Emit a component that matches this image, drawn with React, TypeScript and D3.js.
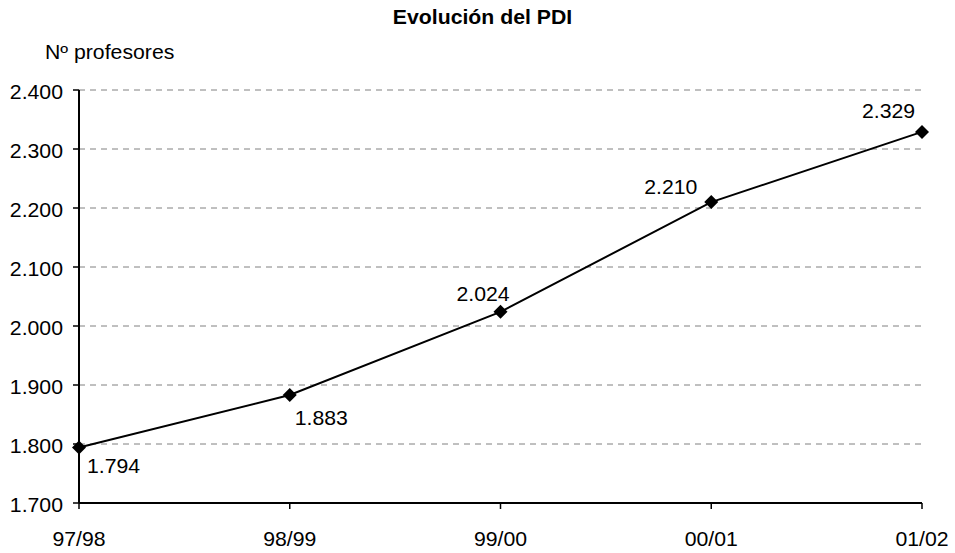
import React from "react";
import * as d3 from "d3";

const categories = ["97/98", "98/99", "99/00", "00/01", "01/02"];
const values = [1794, 1883, 2024, 2210, 2329];
const yTicks = [1700, 1800, 1900, 2000, 2100, 2200, 2300, 2400];
// label offsets (left edge / baseline relative to the point)
const labelDx = [8, 5, -44, -67, -60];
const labelDy = [25, 30, -11, -8, -14];

const fmt = (v: number) => {
  const s = String(v);
  return s.length > 3 ? s.slice(0, s.length - 3) + "." + s.slice(-3) : s;
};

const SX = 1.09;

function T(props: { x: number; y: number; anchor?: string; size: number; bold?: boolean; children: React.ReactNode }) {
  return (
    <text
      transform={`translate(${props.x},${props.y}) scale(${SX},1)`}
      textAnchor={props.anchor || "start"}
      fontSize={props.size}
      fontWeight={props.bold ? "bold" : "normal"}
    >
      {props.children}
    </text>
  );
}

export default function App() {
  const W = 955, H = 553;
  const left = 79, right = 922, top = 90, bottom = 503;
  const x = d3.scalePoint<string>().domain(categories).range([left, right]);
  const y = d3.scaleLinear().domain([1700, 2400]).range([bottom, top]);
  const line = d3.line<number>().x((_, i) => x(categories[i])!).y((d) => y(d));
  const font = "'Liberation Sans', Arial, sans-serif";
  const fs = 19.5;
  return (
    <svg width={W} height={H} style={{ position: "absolute", left: 0, top: 0 }} fontFamily={font}>
      <rect width={W} height={H} fill="#fff" />
      <T x={482.5} y={24} anchor="middle" size={19.5} bold>Evolución del PDI</T>
      <T x={45} y={59} size={fs}>Nº profesores</T>
      {yTicks.map((t) => (
        <g key={t}>
          {t !== 1700 && (
            <line x1={left} x2={right} y1={y(t)} y2={y(t)} stroke="#808080" strokeWidth={1} strokeDasharray="6,5" />
          )}
          <line x1={left - 6} x2={left} y1={y(t)} y2={y(t)} stroke="#000" strokeWidth={1.5} />
          <T x={63} y={y(t) + 9} anchor="end" size={fs}>{fmt(t)}</T>
        </g>
      ))}
      <line x1={left} x2={left} y1={top} y2={bottom} stroke="#000" strokeWidth={2} />
      <line x1={left} x2={right} y1={bottom} y2={bottom} stroke="#000" strokeWidth={2} />
      {categories.map((c) => (
        <g key={c}>
          <line x1={x(c)!} x2={x(c)!} y1={bottom} y2={bottom + 6} stroke="#000" strokeWidth={1.5} />
          <T x={x(c)!} y={546} anchor="middle" size={fs}>{c}</T>
        </g>
      ))}
      <path d={line(values)!} fill="none" stroke="#000" strokeWidth={2} />
      {values.map((v, i) => {
        const cx = x(categories[i])!;
        const cy = y(v);
        const s = 7;
        return (
          <g key={i}>
            <path d={`M${cx},${cy - s}L${cx + s},${cy}L${cx},${cy + s}L${cx - s},${cy}Z`} fill="#000" />
            <T x={cx + labelDx[i]} y={cy + labelDy[i]} size={fs}>{fmt(v)}</T>
          </g>
        );
      })}
    </svg>
  );
}
